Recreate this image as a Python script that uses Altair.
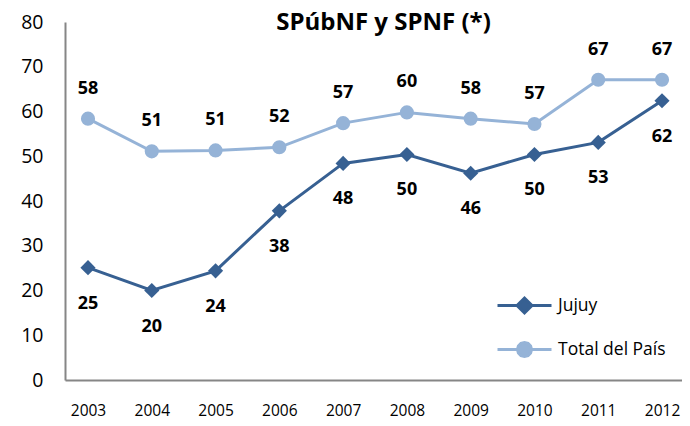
import altair as alt
import pandas as pd

years = ["2003", "2004", "2005", "2006", "2007", "2008", "2009", "2010", "2011", "2012"]
jujuy = [25.1, 20.0, 24.4, 37.8, 48.4, 50.4, 46.2, 50.4, 53.1, 62.4]
total = [58.4, 51.1, 51.3, 52.0, 57.4, 59.8, 58.4, 57.2, 67.1, 67.1]
jujuy_labels = ["25", "20", "24", "38", "48", "50", "46", "50", "53", "62"]
total_labels = ["58", "51", "51", "52", "57", "60", "58", "57", "67", "67"]
series = ["Jujuy", "Total del País"]
colors = ["#376092", "#95B3D7"]
y_ticks = [0, 10, 20, 30, 40, 50, 60, 70, 80]

rows = []
for y, v, l in zip(years, jujuy, jujuy_labels):
    rows.append({"year": y, "value": v, "label": l, "serie": series[0]})
for y, v, l in zip(years, total, total_labels):
    rows.append({"year": y, "value": v, "label": l, "serie": series[1]})
df = pd.DataFrame(rows)

FONT = "Open Sans"

x = alt.X("year:O", sort=years,
          scale=alt.Scale(type="point", padding=0.337, align=0.535),
          axis=alt.Axis(title=None, labelAngle=0, ticks=False, grid=False,
                        domainColor="#868686", domainWidth=2,
                        labelFont=FONT, labelFontSize=15.5, labelColor="#000000",
                        labelPadding=23))
y = alt.Y("value:Q", scale=alt.Scale(domain=[0, 80]),
          axis=alt.Axis(title=None, values=y_ticks, ticks=False, grid=False,
                        domainColor="#868686", domainWidth=2,
                        labelFont=FONT, labelFontSize=19.5, labelColor="#000000",
                        labelPadding=22))

path_diamond = "M-1.8,0L1.8,0M-0.5,0L0,-0.5L0.5,0L0,0.5Z"
path_circle = ("M-1.8,0L1.8,0M-0.47,0L-0.407,-0.235L-0.235,-0.407L0,-0.47L0.235,-0.407"
               "L0.407,-0.235L0.47,0L0.407,0.235L0.235,0.407L0,0.47L-0.235,0.407L-0.407,0.235Z")

leg = alt.Legend(
    title=None, orient="none", legendX=443, legendY=267,
    symbolSize=900, symbolStrokeWidth=3,
    labelFont=FONT, labelFontSize=17.5, labelColor="#000000",
    labelOffset=17, rowPadding=14, padding=0,
)

col = alt.Color("serie:N", scale=alt.Scale(domain=series, range=colors), legend=leg)
shp = alt.Shape("serie:N", scale=alt.Scale(domain=series, range=[path_diamond, path_circle]), legend=leg)

base = alt.Chart(df).encode(x=x, y=y)

lines = base.mark_line(strokeWidth=3).encode(color=col)
diamonds = base.transform_filter(alt.datum.serie == series[0]).mark_point(
    shape="diamond", filled=True, size=230, opacity=1).encode(color=col)
circles = base.transform_filter(alt.datum.serie == series[1]).mark_point(
    shape="circle", filled=True, size=200, opacity=1).encode(color=col)
legend_layer = base.transform_filter("false").mark_point(filled=True, opacity=1).encode(
    color=col, shape=shp)

lab_total = base.transform_filter(alt.datum.serie == series[1]).mark_text(
    font=FONT, fontSize=18, fontWeight="bold", color="#000000", dy=-30, baseline="middle"
).encode(text="label:N")
lab_jujuy = base.transform_filter(alt.datum.serie == series[0]).mark_text(
    font=FONT, fontSize=18, fontWeight="bold", color="#000000", dy=36, baseline="middle"
).encode(text="label:N")

chart = alt.layer(lines, diamonds, circles, legend_layer, lab_total, lab_jujuy).properties(
    width=617, height=358,
    title=alt.TitleParams("SPúbNF y SPNF (*)", font=FONT, fontSize=24, fontWeight="bold",
                          color="#000000", anchor="middle", baseline="alphabetic",
                          offset=-42, dx=10),
    autosize=alt.AutoSizeParams(type="none"),
    padding={"left": 57, "top": 14, "right": 0, "bottom": 44},
).configure_view(stroke=None)

chart.save("out.html", embed_options={"renderer": "svg", "actions": False})
